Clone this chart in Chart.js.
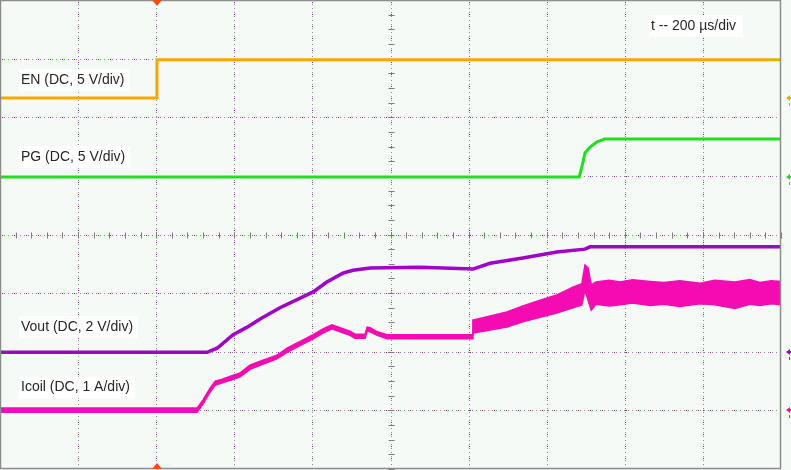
<!DOCTYPE html>
<html>
<head>
<meta charset="utf-8">
<script src="https://cdn.jsdelivr.net/npm/chart.js@4/dist/chart.umd.min.js"></script>
<style>
    body { margin: 0; background: #f5faf7; }
    #wrap { width: 791px; height: 470px; }
</style>
</head>
<body>
<div id="wrap"><canvas id="scope" width="791" height="470"></canvas></div>
<script>
// time in µs (200 µs/div), amplitude in screen divisions (0 = centre)
var enT = [0, 402, 402, 2000];
var enV = [2.33, 2.33, 2.98, 2.98];

var pgT = [0, 1483, 1488, 1493, 1498, 1511, 1529, 1549, 2000];
var pgV = [0.98, 0.98, 1.10, 1.24, 1.39, 1.49, 1.58, 1.63, 1.63];

var voutT = [0, 530, 556, 597, 633, 666, 717, 802, 837, 878, 904, 948, 1076, 1211, 1255, 1339, 1426, 1498, 1511, 2000];
var voutV = [-2.01, -2.01, -1.94, -1.71, -1.58, -1.44, -1.25, -0.98, -0.81, -0.66, -0.61, -0.57, -0.56, -0.59, -0.49, -0.40, -0.30, -0.25, -0.21, -0.21];

var icoilT = [0, 505, 520, 538, 551, 569, 594, 615, 640, 666, 709, 735, 761, 802, 827, 850, 871, 896, 909, 935,
    940, 948, 966, 991, 1209, 1211, 1255, 1298, 1339, 1383, 1426, 1467, 1490, 1498, 1506, 1514, 1526, 1560, 1588, 1620,
    1665, 1700, 1741, 1793, 1830, 1882, 1920, 1946, 1975, 2000];
var icoilHi = [-2.96, -2.96, -2.82, -2.62, -2.50, -2.47, -2.41, -2.36, -2.23, -2.16, -2.06, -1.94, -1.85, -1.71, -1.61, -1.54, -1.59, -1.65, -1.70, -1.70,
    -1.58, -1.59, -1.66, -1.71, -1.71, -1.46, -1.39, -1.32, -1.22, -1.12, -1.03, -0.90, -0.84, -0.52, -0.57, -0.86, -0.81, -0.78, -0.81, -0.77,
    -0.80, -0.82, -0.79, -0.83, -0.78, -0.81, -0.77, -0.82, -0.79, -0.80];
var icoilLo = [-3.03, -3.03, -2.89, -2.69, -2.57, -2.53, -2.48, -2.43, -2.30, -2.23, -2.12, -2.01, -1.92, -1.78, -1.68, -1.61, -1.66, -1.72, -1.77, -1.77,
    -1.65, -1.66, -1.72, -1.78, -1.78, -1.68, -1.63, -1.58, -1.49, -1.41, -1.34, -1.25, -1.20, -0.95, -1.12, -1.29, -1.19, -1.22, -1.20, -1.17,
    -1.21, -1.19, -1.23, -1.18, -1.20, -1.26, -1.19, -1.21, -1.18, -1.20];

// channel labels and ground-reference levels (divisions)
var chanNames = ["EN (DC, 5 V/div)", "PG (DC, 5 V/div)", "Vout (DC, 2 V/div)", "Icoil (DC, 1 A/div)"];
var chanLabelY = [2.63, 1.32, -1.58, -2.61];
var chanRef = [2.33, 0.98, -2.0, -3.0];
var chanColors = ["#f2a900", "#1ee01e", "#a100c6", "#f40cb2"];
var timebase = "t -- 200 µs/div";
var triggerT = 402;

function pts(t, v) {
    return t.map(function (x, i) { return { x: x, y: v[i] }; });
}

var scopeGrid = {
    id: "scopeGrid",
    beforeDatasetsDraw: function (chart) {
        var ctx = chart.ctx, a = chart.chartArea;
        var xs = chart.scales.x, ys = chart.scales.y;
        ctx.save();
        ctx.fillStyle = "#f5faf7";
        ctx.fillRect(a.left, a.top, a.right - a.left, a.bottom - a.top);
        ctx.lineWidth = 1;
        // dotted division lines
        for (var i = 1; i < 10; i++) {
            var px = Math.round(xs.getPixelForValue(i * 200)) + 0.5;
            ctx.strokeStyle = "#8a8a8a";
            ctx.setLineDash([1, 3]);
            ctx.beginPath(); ctx.moveTo(px, a.top); ctx.lineTo(px, a.bottom); ctx.stroke();
            ctx.strokeStyle = "#b000d0";
            ctx.setLineDash([1, 11]);
            ctx.lineDashOffset = -2;
            ctx.beginPath(); ctx.moveTo(px, a.top); ctx.lineTo(px, a.bottom); ctx.stroke();
            ctx.lineDashOffset = 0;
        }
        for (var j = -3; j <= 3; j++) {
            var py = Math.round(ys.getPixelForValue(j)) + 0.5;
            ctx.strokeStyle = "#8a8a8a";
            ctx.setLineDash([1, 3]);
            ctx.beginPath(); ctx.moveTo(a.left, py); ctx.lineTo(a.right, py); ctx.stroke();
            ctx.strokeStyle = "#b000d0";
            ctx.setLineDash([1, 11]);
            ctx.lineDashOffset = -2;
            ctx.beginPath(); ctx.moveTo(a.left, py); ctx.lineTo(a.right, py); ctx.stroke();
            ctx.lineDashOffset = 0;
        }
        ctx.setLineDash([]);
        // centre axis tick marks
        ctx.strokeStyle = "#7a7a7a";
        var cx = Math.round(xs.getPixelForValue(1000)) + 0.5;
        var cy = Math.round(ys.getPixelForValue(0)) + 0.5;
        for (var k = -16; k <= 16; k++) {
            var ty = Math.round(ys.getPixelForValue(k / 4)) + 0.5;
            ctx.beginPath(); ctx.moveTo(cx - 3, ty); ctx.lineTo(cx + 3, ty); ctx.stroke();
        }
        for (var m = 0; m <= 50; m++) {
            var tx = Math.round(xs.getPixelForValue(m * 40)) + 0.5;
            ctx.beginPath(); ctx.moveTo(tx, cy - 3); ctx.lineTo(tx, cy + 3); ctx.stroke();
        }
        ctx.restore();
    },
    afterDraw: function (chart) {
        var ctx = chart.ctx, a = chart.chartArea;
        var xs = chart.scales.x, ys = chart.scales.y;
        ctx.save();
        // frame
        ctx.strokeStyle = "#8c8c8c";
        ctx.lineWidth = 1.5;
        ctx.strokeRect(a.left + 0.5, a.top + 0.5, a.right - a.left - 1, a.bottom - a.top - 1);
        // labels with white boxes
        ctx.font = "14px 'Liberation Sans', Arial, sans-serif";
        ctx.textBaseline = "middle";
        chanNames.forEach(function (name, i) {
            var y = ys.getPixelForValue(chanLabelY[i]);
            var w = ctx.measureText(name).width;
            ctx.fillStyle = "#ffffff";
            ctx.fillRect(19, y - 11, w + 7, 22);
            ctx.fillStyle = "#262626";
            ctx.fillText(name, 21, y);
        });
        var tw = ctx.measureText(timebase).width;
        ctx.fillStyle = "#ffffff";
        ctx.fillRect(649, 15, tw + 9, 22);
        ctx.fillStyle = "#262626";
        ctx.fillText(timebase, 651, 26);
        // trigger markers
        var tgx = xs.getPixelForValue(triggerT);
        ctx.fillStyle = "#ff4a10";
        ctx.beginPath(); ctx.moveTo(tgx - 5, a.top); ctx.lineTo(tgx + 5, a.top); ctx.lineTo(tgx, a.top + 6); ctx.closePath(); ctx.fill();
        ctx.beginPath(); ctx.moveTo(tgx - 5, a.bottom); ctx.lineTo(tgx + 5, a.bottom); ctx.lineTo(tgx, a.bottom - 6); ctx.closePath(); ctx.fill();
        // channel reference arrows at the right
        chanRef.forEach(function (r, i) {
            var y = Math.round(ys.getPixelForValue(r));
            ctx.fillStyle = chanColors[i];
            ctx.beginPath(); ctx.moveTo(a.right + 5, y); ctx.lineTo(a.right + 9, y - 3); ctx.lineTo(a.right + 9, y + 3); ctx.closePath(); ctx.fill();
            ctx.fillRect(a.right + 8, y - 1, 3, 2);
            ctx.fillRect(a.right + 8, y + 5, 1, 3);
        });
        ctx.restore();
    }
};

var ctx = document.getElementById("scope");
var scope = new Chart(ctx, {
    type: "line",
    data: {
        datasets: [
            { label: "Icoil hi", data: pts(icoilT, icoilHi), borderColor: chanColors[3], borderWidth: 1.5, fill: false },
            { label: "Icoil lo", data: pts(icoilT, icoilLo), borderColor: chanColors[3], borderWidth: 1.5, fill: "-1", backgroundColor: chanColors[3] },
            { label: "Vout", data: pts(voutT, voutV), borderColor: chanColors[2], borderWidth: 3.5 },
            { label: "PG", data: pts(pgT, pgV), borderColor: chanColors[1], borderWidth: 3 },
            { label: "EN", data: pts(enT, enV), borderColor: chanColors[0], borderWidth: 3 }
        ]
    },
    options: {
        responsive: false,
        animation: false,
        layout: { padding: { left: 0, right: 10, top: 0, bottom: 1 } },
        elements: { point: { radius: 0 }, line: { tension: 0 } },
        plugins: { legend: { display: false }, tooltip: { enabled: false } },
        scales: {
            x: { type: "linear", min: 0, max: 2000, display: false },
            y: { type: "linear", min: -4, max: 4, display: false }
        }
    },
    plugins: [scopeGrid]
});
</script>
</body>
</html>
